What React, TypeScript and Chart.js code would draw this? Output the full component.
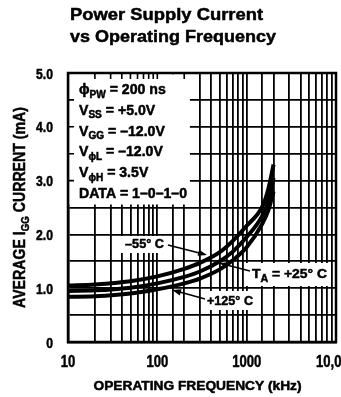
import React, { useEffect, useRef } from 'react';
import { Chart, registerables } from 'chart.js';

Chart.register(...registerables);

// ---- data ----
const frequencies = [10, 20, 50, 100, 200, 300, 500, 700, 1000, 1500, 1750, 2000];
const currentMinus55 = [1.05, 1.07, 1.13, 1.22, 1.36, 1.47, 1.67, 1.88, 2.16, 2.52, 2.85, 3.3];
const current25 = [0.95, 0.96, 1.01, 1.09, 1.21, 1.31, 1.5, 1.68, 1.95, 2.35, 2.62, 3.05];
const current125 = [0.84, 0.85, 0.9, 0.98, 1.09, 1.18, 1.35, 1.52, 1.76, 2.2, 2.45, 2.8];

const xTickValues = [10, 100, 1000, 10000];
const xTickLabels = ['10', '100', '1000', '10,000'];
const yTickValues = [0, 1, 2, 3, 4, 5];
const yTickLabels = ['0', '1.0', '2.0', '3.0', '4.0', '5.0'];

const titleLines = ['Power Supply Current', 'vs Operating Frequency'];
const xAxisTitle = 'OPERATING FREQUENCY (kHz)';

const SANS = '"Liberation Sans", Arial, Helvetica, sans-serif';

type Seg = { t: string; sub?: boolean };

function segWidth(ctx: CanvasRenderingContext2D, segs: Seg[], size: number, subSize: number) {
  let w = 0;
  for (const s of segs) {
    ctx.font = `bold ${s.sub ? subSize : size}px ${SANS}`;
    w += ctx.measureText(s.t).width;
  }
  return w;
}

function drawSegs(
  ctx: CanvasRenderingContext2D,
  segs: Seg[],
  x: number,
  baseline: number,
  size: number,
  opts: {
    width?: number;
    sx?: number;
    align?: 'left' | 'center' | 'right';
    subSize?: number;
    subDrop?: number;
    heavy?: number;
  } = {}
) {
  const subSize = opts.subSize ?? Math.round(size * 0.72);
  const subDrop = opts.subDrop ?? size * 0.28;
  const natural = segWidth(ctx, segs, size, subSize);
  const sx = opts.width ? opts.width / natural : opts.sx ?? 1;
  const total = natural * sx;
  const start = opts.align === 'center' ? x - total / 2 : opts.align === 'right' ? x - total : x;
  ctx.save();
  ctx.translate(start, baseline);
  ctx.scale(sx, 1);
  ctx.fillStyle = '#000';
  ctx.strokeStyle = '#000';
  ctx.lineWidth = opts.heavy ?? 0.5;
  ctx.lineJoin = 'round';
  ctx.textBaseline = 'alphabetic';
  ctx.textAlign = 'left';
  let cx = 0;
  for (const s of segs) {
    ctx.font = `bold ${s.sub ? subSize : size}px ${SANS}`;
    ctx.fillText(s.t, cx, s.sub ? subDrop : 0);
    if (ctx.lineWidth > 0) ctx.strokeText(s.t, cx, s.sub ? subDrop : 0);
    cx += ctx.measureText(s.t).width;
  }
  ctx.restore();
  return sx;
}

function arrow(ctx: CanvasRenderingContext2D, x1: number, y1: number, x2: number, y2: number) {
  const ang = Math.atan2(y2 - y1, x2 - x1);
  const L = 9;
  const W = 3.2;
  ctx.save();
  ctx.strokeStyle = '#000';
  ctx.fillStyle = '#000';
  ctx.lineWidth = 1.6;
  ctx.beginPath();
  ctx.moveTo(x1, y1);
  ctx.lineTo(x2 - Math.cos(ang) * (L - 2), y2 - Math.sin(ang) * (L - 2));
  ctx.stroke();
  ctx.beginPath();
  ctx.moveTo(x2, y2);
  ctx.lineTo(x2 - Math.cos(ang) * L - Math.sin(ang) * W, y2 - Math.sin(ang) * L + Math.cos(ang) * W);
  ctx.lineTo(x2 - Math.cos(ang) * L + Math.sin(ang) * W, y2 - Math.sin(ang) * L - Math.cos(ang) * W);
  ctx.closePath();
  ctx.fill();
  ctx.restore();
}

const decorPlugin = {
  id: 'decor',
  beforeDatasetsDraw(chart: any) {
    const { ctx, chartArea, scales } = chart;
    const xs = scales.x;
    const ys = scales.y;
    ctx.save();
    ctx.fillStyle = '#fff';
    // parameter box (covers grid)
    const boxRight = xs.getPixelForValue(250) - 3;
    const boxBottom = ys.getPixelForValue(2.5) - 3;
    ctx.fillRect(chartArea.left + 1.3, chartArea.top + 1.3, boxRight - chartArea.left - 1.3, boxBottom - chartArea.top - 1.3);
    // label backgrounds
    ctx.fillRect(121, 236, 47, 17);
    ctx.fillRect(246, 263, 85, 23);
    ctx.fillRect(203, 291, 54, 19);
    // short ticks along the top and left edges of the box
    ctx.strokeStyle = '#000';
    ctx.lineWidth = 1.6;
    ctx.beginPath();
    for (const v of [20, 30, 40, 50, 60, 70, 80, 90, 100, 200]) {
      const px = xs.getPixelForValue(v);
      ctx.moveTo(px, chartArea.top);
      ctx.lineTo(px, chartArea.top + 6);
    }
    for (const v of [4.5, 4, 3.5, 3]) {
      const py = ys.getPixelForValue(v);
      ctx.moveTo(chartArea.left, py);
      ctx.lineTo(chartArea.left + 6, py);
    }
    ctx.stroke();
    // frame
    ctx.lineWidth = 2.5;
    ctx.strokeRect(chartArea.left, chartArea.top, chartArea.right - chartArea.left, chartArea.bottom - chartArea.top);
    ctx.restore();
  },
  afterDatasetsDraw(chart: any) {
    const { ctx, scales, chartArea } = chart;
    const xs = scales.x;
    const ys = scales.y;
    const P = (f: number, v: number) => [xs.getPixelForValue(f), ys.getPixelForValue(v)];

    // parameter text
    const lines: Seg[][] = [
      [{ t: 'ϕ' }, { t: 'PW', sub: true }, { t: ' = 200 ns' }],
      [{ t: 'V' }, { t: 'SS', sub: true }, { t: ' = +5.0V' }],
      [{ t: 'V' }, { t: 'GG', sub: true }, { t: ' = –12.0V' }],
      [{ t: 'V' }, { t: 'ϕL', sub: true }, { t: ' = –12.0V' }],
      [{ t: 'V' }, { t: 'ϕH', sub: true }, { t: ' = 3.5V' }],
      [{ t: 'DATA = 1–0–1–0' }],
    ];
    const dw = segWidth(ctx, lines[5], 14, 10);
    const sx = dw > 0 ? 108 / dw : 1;
    lines.forEach((segs, i) => {
      drawSegs(ctx, segs, 79, 94 + i * 20.8, 14, { sx, subSize: 10, subDrop: 3.5 });
    });

    // curve labels
    drawSegs(ctx, [{ t: '–55° C' }], 125, 248, 13, { width: 39 });
    drawSegs(ctx, [{ t: 'T' }, { t: 'A', sub: true }, { t: ' = +25° C' }], 252, 278, 13, {
      width: 75,
      subSize: 10,
      subDrop: 4,
    });
    drawSegs(ctx, [{ t: '+125° C' }], 207, 305, 13, { width: 46 });

    // arrows
    const a1 = P(131.6, 1.803),
      b1 = P(360, 1.617);
    arrow(ctx, a1[0], a1[1], b1[0], b1[1]);
    const a2 = P(1089, 1.32),
      b2 = P(490, 1.468);
    arrow(ctx, a2[0], a2[1], b2[0], b2[1]);
    const a3 = P(342, 0.8),
      b3 = P(146, 0.967);
    arrow(ctx, a3[0], a3[1], b3[0], b3[1]);

    // tick labels, placed through the scales
    xTickValues.forEach((v, i) => {
      drawSegs(ctx, [{ t: xTickLabels[i] }], xs.getPixelForValue(v), chartArea.bottom + 24.7, 16, {
        sx: 0.815,
        align: 'center',
      });
    });
    yTickValues.forEach((v, i) => {
      drawSegs(ctx, [{ t: yTickLabels[i] }], chartArea.left - 15, ys.getPixelForValue(v) + 5.6, 15, {
        sx: 0.815,
        align: 'right',
      });
    });
  },
  afterDraw(chart: any) {
    const { ctx } = chart;
    // chart title
    drawSegs(ctx, [{ t: titleLines[0] }], 70, 20, 17, { width: 193 });
    drawSegs(ctx, [{ t: titleLines[1] }], 70, 41.5, 17, { width: 206 });
    // x axis title
    drawSegs(ctx, [{ t: xAxisTitle }], 197.5, 390, 13, { width: 208, align: 'center' });
    // y axis title (rotated)
    ctx.save();
    ctx.translate(25, 207.5);
    ctx.rotate(-Math.PI / 2);
    drawSegs(ctx, [{ t: 'AVERAGE I' }, { t: 'GG', sub: true }, { t: ' CURRENT (mA)' }], 0, 0, 16, {
      width: 201,
      align: 'center',
      subSize: 11,
      subDrop: 4,
    });
    ctx.restore();
  },
};

export default function App() {
  const ref = useRef<HTMLCanvasElement>(null);
  useEffect(() => {
    if (!ref.current) return;
    const mk = (vals: number[], label: string) => ({
      label,
      data: frequencies.map((f, i) => ({ x: f, y: vals[i] })),
      borderColor: '#000',
      backgroundColor: '#000',
      borderWidth: 4,
      pointRadius: 0,
      fill: false,
      cubicInterpolationMode: 'monotone' as const,
    });
    const chart = new Chart(ref.current, {
      type: 'line',
      data: {
        datasets: [mk(currentMinus55, '-55°C'), mk(current25, '+25°C'), mk(current125, '+125°C')],
      },
      options: {
        animation: false,
        responsive: true,
        maintainAspectRatio: false,
        layout: { padding: { top: 73, right: 5, left: 0, bottom: 0 }, autoPadding: false } as any,
        plugins: { legend: { display: false }, tooltip: { enabled: false }, title: { display: false } },
        scales: {
          x: {
            type: 'logarithmic',
            min: 10,
            max: 10000,
            afterFit: (s: any) => {
              s.height = 55;
              s.paddingLeft = 0;
              s.paddingRight = 0;
            },
            grid: { color: '#000', lineWidth: 1.8, drawTicks: false },
            border: { display: true, color: '#000', width: 2.5 },
            ticks: { display: false, autoSkip: false, maxRotation: 0 },
          },
          y: {
            type: 'linear',
            min: 0,
            max: 5,
            afterFit: (s: any) => {
              s.width = 68;
              s.paddingTop = 0;
              s.paddingBottom = 0;
            },
            grid: { color: '#000', lineWidth: 1.8, drawTicks: false },
            border: { display: true, color: '#000', width: 2.5 },
            ticks: { display: false, stepSize: 0.5 },
          },
        },
      },
      plugins: [decorPlugin],
    });
    return () => chart.destroy();
  }, []);
  return (
    <div style={{ position: 'absolute', left: 0, top: 0, width: 341, height: 397, background: '#fff' }}>
      <canvas ref={ref} />
    </div>
  );
}
